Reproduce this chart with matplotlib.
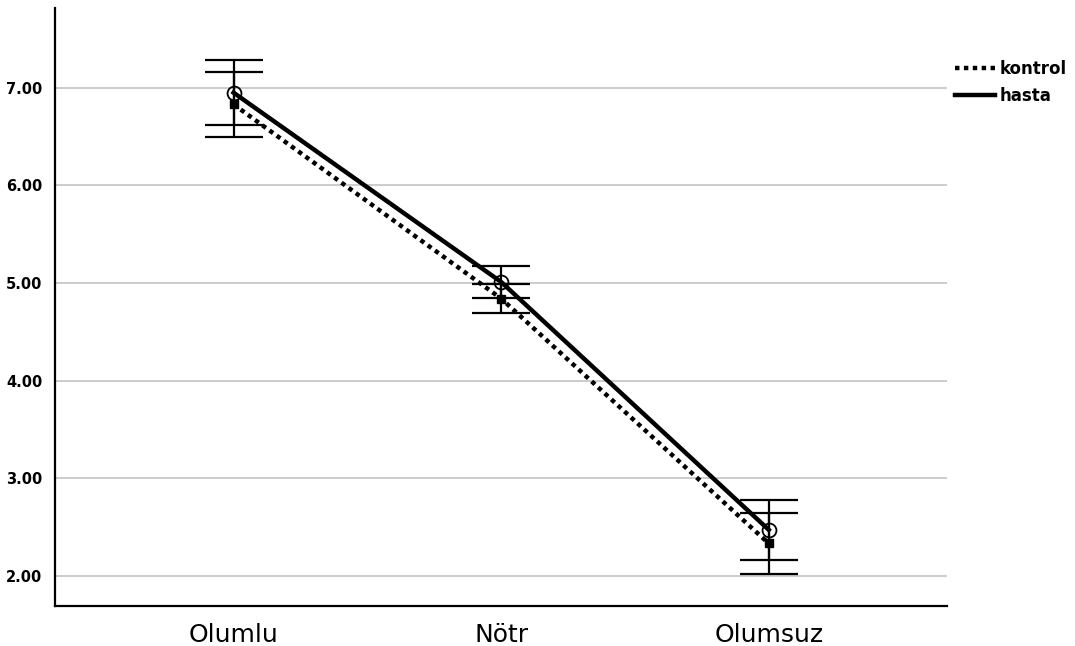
import matplotlib.pyplot as plt
import numpy as np

categories = ['Olumlu', 'Nötr', 'Olumsuz']
kontrol_mean = [6.83, 4.84, 2.33]
kontrol_err = [0.33, 0.15, 0.31]
hasta_mean = [6.95, 5.01, 2.47]
hasta_err = [0.33, 0.16, 0.31]
yticks = [2.0, 3.0, 4.0, 5.0, 6.0, 7.0]

fig = plt.figure(figsize=(10.75, 6.46), dpi=100)
ax = fig.add_axes([0.0512, 0.062, 0.830, 0.926])

x = np.arange(len(categories))

# grid first
for t in yticks:
    ax.axhline(t, color='#c8c8c8', lw=1.3, zorder=0)

# error bars
ax.errorbar(x, hasta_mean, yerr=hasta_err, fmt='none', ecolor='black',
            elinewidth=1.6, capsize=21, capthick=1.6, zorder=2)
ax.errorbar(x, kontrol_mean, yerr=kontrol_err, fmt='none', ecolor='black',
            elinewidth=1.6, capsize=21, capthick=1.6, zorder=2)

# lines
ax.plot(x, kontrol_mean, color='black', lw=3.2, linestyle=(0, (1, 1)),
        label='kontrol', zorder=3)
ax.plot(x, hasta_mean, color='black', lw=3.2, linestyle='-',
        label='hasta', zorder=3)

# markers
ax.plot(x, kontrol_mean, 's', color='black', ms=6, linestyle='none', zorder=4)
ax.plot(x, hasta_mean, 'o', mfc='none', mec='black', mew=1.3, ms=10,
        linestyle='none', zorder=4)

ax.set_xlim(-0.667, 2.667)
ax.set_ylim(1.69, 7.82)
ax.set_xticks(x)
ax.set_xticklabels(categories, fontsize=18)
ax.set_yticks(yticks)
ax.set_yticklabels(['%.2f' % t for t in yticks], fontsize=10.5, fontweight='bold')
ax.tick_params(axis='both', length=0)
ax.tick_params(axis='x', pad=12)
ax.tick_params(axis='y', pad=9)

for s in ['top', 'right']:
    ax.spines[s].set_visible(False)
ax.spines['left'].set_linewidth(1.6)
ax.spines['bottom'].set_linewidth(1.6)

leg = fig.legend(loc='upper left', bbox_to_anchor=(0.874, 0.93), frameon=False,
                 handlelength=2.4, handletextpad=0.3, labelspacing=0.5,
                 prop={'size': 12, 'weight': 'semibold'})

fig.savefig('out.png', dpi=100)
